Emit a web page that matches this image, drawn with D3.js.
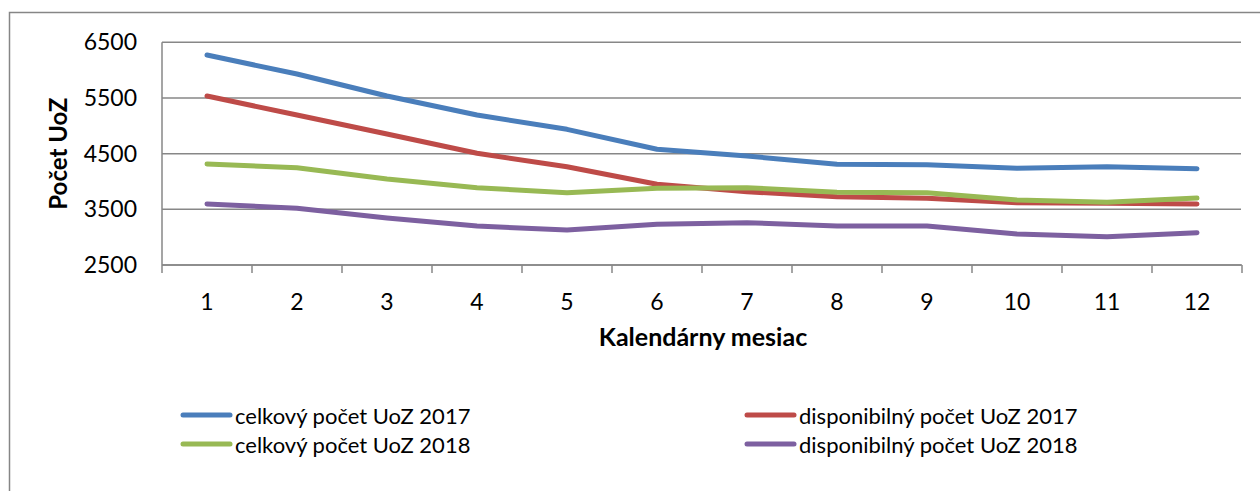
<!DOCTYPE html>
<html>
<head>
<meta charset="utf-8">
<script src="https://cdn.jsdelivr.net/npm/d3@7"></script>
<style>
  body { margin: 0; background: #fff; }
  svg text { font-family: Lato, "Open Sans", sans-serif; fill: #000; }
  .grid line { stroke: #878787; stroke-width: 1.5; }
  .axis path, .axis line { stroke: #878787; stroke-width: 1.5; }
</style>
</head>
<body>
<script>
// data
var months = [1, 2, 3, 4, 5, 6, 7, 8, 9, 10, 11, 12];
var celkovy2017 = [6272, 5930, 5535, 5194, 4937, 4578, 4457, 4308, 4302, 4236, 4266, 4230];
var disponibilny2017 = [5535, 5194, 4853, 4506, 4266, 3950, 3817, 3727, 3698, 3619, 3608, 3596];
var celkovy2018 = [4314, 4248, 4044, 3889, 3799, 3878, 3889, 3806, 3799, 3667, 3626, 3703];
var disponibilny2018 = [3596, 3518, 3344, 3200, 3129, 3231, 3260, 3200, 3200, 3057, 3008, 3080];
var yTicks = [2500, 3500, 4500, 5500, 6500];

var series = [
  { name: "celkový počet UoZ 2017", values: celkovy2017, color: "#4a7ebb" },
  { name: "disponibilný počet UoZ 2017", values: disponibilny2017, color: "#be4b48" },
  { name: "celkový počet UoZ 2018", values: celkovy2018, color: "#98b954" },
  { name: "disponibilný počet UoZ 2018", values: disponibilny2018, color: "#7d60a0" }
];

var width = 1260,
    height = 491;

var svg = d3.select("body")
    .append("svg")
    .attr("width", width)
    .attr("height", height);

// outer chart border (right and bottom edges fall off the picture)
svg.append("rect")
    .attr("x", 9.5)
    .attr("y", 12.5)
    .attr("width", 1260)
    .attr("height", 500)
    .attr("fill", "none")
    .attr("stroke", "#868686")
    .attr("stroke-width", 1.5);

var plotLeft = 162, plotRight = 1242, plotTop = 42.3, plotBottom = 265;

var x = d3.scaleBand()
    .domain(months)
    .range([plotLeft, plotRight]);

var y = d3.scaleLinear()
    .domain([2500, 6500])
    .range([plotBottom, plotTop]);

// horizontal gridlines
svg.append("g")
    .attr("class", "grid")
    .selectAll("line")
    .data(yTicks)
    .enter()
    .append("line")
    .attr("x1", plotLeft)
    .attr("x2", plotRight - 1)
    .attr("y1", function(d){ return y(d); })
    .attr("y2", function(d){ return y(d); });

// y axis
var yAxis = svg.append("g")
    .attr("class", "axis")
    .attr("transform", "translate(" + plotLeft + ",0)")
    .call(d3.axisLeft(y).tickValues(yTicks).tickFormat(d3.format("d")).tickSize(0).tickPadding(25));
yAxis.select(".domain").remove();
yAxis.selectAll("text")
    .style("font-size", "23px")
    .style("font-family", "Lato, sans-serif")
    .attr("fill", "#000");
svg.append("line")
    .attr("class", "yline")
    .attr("x1", plotLeft).attr("x2", plotLeft)
    .attr("y1", plotTop).attr("y2", plotBottom)
    .attr("stroke", "#878787")
    .attr("stroke-width", 1.5);

// x axis with ticks between categories
var xAxis = svg.append("g")
    .attr("class", "axis")
    .attr("transform", "translate(0," + plotBottom + ")");
xAxis.append("line")
    .attr("x1", plotLeft)
    .attr("x2", plotRight)
    .attr("y1", 0)
    .attr("y2", 0);
xAxis.selectAll(".tk")
    .data(months.concat([13]))
    .enter()
    .append("line")
    .attr("class", "tk")
    .attr("x1", function(d, i){ return plotLeft + i * x.bandwidth(); })
    .attr("x2", function(d, i){ return plotLeft + i * x.bandwidth(); })
    .attr("y1", 0)
    .attr("y2", 8);
xAxis.selectAll(".lbl")
    .data(months)
    .enter()
    .append("text")
    .attr("class", "lbl")
    .attr("x", function(d){ return x(d) + x.bandwidth() / 2; })
    .attr("y", 45)
    .attr("text-anchor", "middle")
    .style("font-size", "23px")
    .text(function(d){ return d; });

// axis titles
svg.append("text")
    .attr("x", 703)
    .attr("y", 346)
    .attr("text-anchor", "middle")
    .style("font-size", "25px")
    .style("font-weight", "bold")
    .text("Kalendárny mesiac");

svg.append("text")
    .attr("transform", "translate(67," + ((plotTop + plotBottom) / 2) + ") rotate(-90)")
    .attr("text-anchor", "middle")
    .style("font-size", "24px")
    .style("font-weight", "bold")
    .text("Počet UoZ");

// lines
var line = d3.line()
    .x(function(d, i){ return x(months[i]) + x.bandwidth() / 2; })
    .y(function(d){ return y(d); });

svg.selectAll(".series")
    .data(series)
    .enter()
    .append("path")
    .attr("class", "series")
    .attr("d", function(d){ return line(d.values); })
    .attr("fill", "none")
    .attr("stroke", function(d){ return d.color; })
    .attr("stroke-width", 5)
    .attr("stroke-linecap", "round")
    .attr("stroke-linejoin", "round");

// legend, two columns
var legendPos = [
  { x: 183, y: 415 },
  { x: 747, y: 415 },
  { x: 183, y: 444 },
  { x: 747, y: 444 }
];

var legend = svg.selectAll(".legend")
    .data(series)
    .enter()
    .append("g")
    .attr("class", "legend")
    .attr("transform", function(d, i){ return "translate(" + legendPos[i].x + "," + legendPos[i].y + ")"; });

legend.append("line")
    .attr("x1", 0)
    .attr("x2", 47)
    .attr("stroke", function(d){ return d.color; })
    .attr("stroke-width", 5)
    .attr("stroke-linecap", "round");

legend.append("text")
    .attr("x", 52)
    .attr("y", 8.5)
    .style("font-size", "22px")
    .text(function(d){ return d.name; });
</script>
</body>
</html>
